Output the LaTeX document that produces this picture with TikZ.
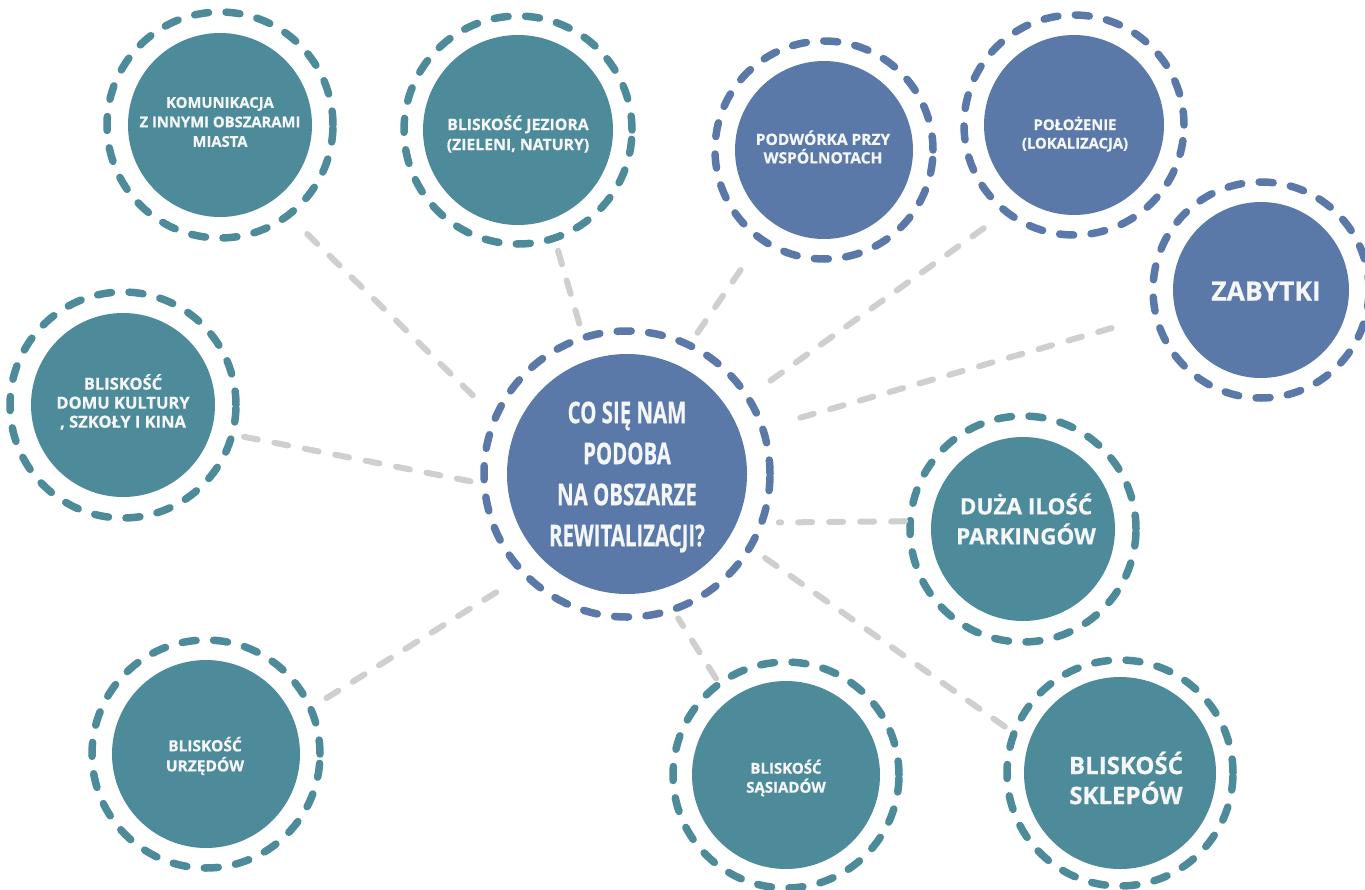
\documentclass[tikz,border=0pt]{standalone}
\usepackage{fontspec}
\setmainfont{Open Sans}
\newfontfamily\osb[BoldFeatures={FakeBold=0.6}]{Open Sans}
\newfontfamily\condf[FakeStretch=0.68, BoldFeatures={FakeBold=0.5}]{Open Sans}
\definecolor{tealc}{HTML}{4E8B9A}
\definecolor{bluec}{HTML}{5A78A8}
\definecolor{connc}{HTML}{CFCFCF}
\definecolor{txtc}{HTML}{F4F6F8}
\tikzset{
  bubble/.style={circle, inner sep=0pt, draw=none},
  tealb/.style={bubble, fill=tealc},
  blueb/.style={bubble, fill=bluec},
  ringt/.style={draw=tealc, line width=7.5pt, dash pattern=on 14pt off 17.5pt, line cap=round},
  ringb/.style={draw=bluec, line width=7.5pt, dash pattern=on 14pt off 17.5pt, line cap=round},
  conn/.style={draw=connc, line width=6pt, dash pattern=on 14pt off 17pt, line cap=round},
  txt/.style={text=txtc, align=center, inner sep=0pt, font=\osb\bfseries\fontsize{14.8}{19.5}\selectfont},
}
\begin{document}
\begin{tikzpicture}[x=1pt,y=-1pt]
\useasboundingbox (0,0) rectangle (1365,889);
\clip (0,0) rectangle (1365,889);
\fill[white] (0,0) rectangle (1365,889);

% nodes
\node[blueb, minimum size=240pt] (cent) at (627,474) {};
\draw[ringb] (cent.center) circle[radius=143pt];

\node[tealb, minimum size=184pt] (komu) at (220,125) {};
\draw[ringt] (komu.center) circle[radius=113pt];
\node[tealb, minimum size=190pt] (jez) at (518,130) {};
\draw[ringt] (jez.center) circle[radius=114pt];
\node[blueb, minimum size=178pt] (pod) at (824,150) {};
\draw[ringb] (pod.center) circle[radius=109pt];
\node[blueb, minimum size=180pt] (pol) at (1074,125) {};
\draw[ringb] (pol.center) circle[radius=110pt];
\node[blueb, minimum size=176pt] (zab) at (1261,290) {};
\draw[ringb] (zab.center) circle[radius=108pt];
\node[tealb, minimum size=184pt] (domu) at (123,405) {};
\draw[ringt] (domu.center) circle[radius=113pt];
\node[tealb, minimum size=184pt] (duza) at (1023,529) {};
\draw[ringt] (duza.center) circle[radius=113pt];
\node[tealb, minimum size=188pt] (urz) at (206,754) {};
\draw[ringt] (urz.center) circle[radius=114pt];
\node[tealb, minimum size=188pt] (sas) at (786,775) {};
\draw[ringt] (sas.center) circle[radius=113pt];
\node[tealb, minimum size=192pt] (skl) at (1120,773) {};
\draw[ringt] (skl.center) circle[radius=113pt];

% texts
\node[txt, font=\condf\bfseries\fontsize{30}{41}\selectfont] (cent-t) at (627,477) {CO SIĘ NAM\\PODOBA\\NA OBSZARZE\\REWITALIZACJI?};
\node[txt] (komu-t) at (220,122) {KOMUNIKACJA\\Z INNYMI OBSZARAMI\\MIASTA};
\node[txt, font=\osb\bfseries\fontsize{15.8}{20}\selectfont] (jez-t) at (518,134) {BLISKOŚĆ JEZIORA\\(ZIELENI, NATURY)};
\node[txt, font=\osb\bfseries\fontsize{15.5}{18.5}\selectfont] (pod-t) at (823,147) {PODWÓRKA PRZY\\WSPÓLNOTACH};
\node[txt, font=\osb\bfseries\fontsize{14.8}{18.5}\selectfont] (pol-t) at (1075,134) {POŁOŻENIE\\(LOKALIZACJA)};
\node[txt, font=\osb\bfseries\fontsize{26.5}{30}\selectfont] (zab-t) at (1266,291) {ZABYTKI};
\node[txt, font=\osb\bfseries\fontsize{16.5}{19}\selectfont] (domu-t) at (123,402) {BLISKOŚĆ\\DOMU KULTURY\\, SZKOŁY I KINA};
\node[txt, font=\osb\bfseries\fontsize{22.5}{30}\selectfont] (duza-t) at (1026,519) {DUŻA ILOŚĆ\\PARKINGÓW};
\node[txt, font=\osb\bfseries\fontsize{15.5}{20}\selectfont] (urz-t) at (205,756) {BLISKOŚĆ\\URZĘDÓW};
\node[txt, font=\osb\bfseries\fontsize{15}{19}\selectfont] (sas-t) at (786,778) {BLISKOŚĆ\\SĄSIADÓW};
\node[txt, font=\osb\bfseries\fontsize{24}{30}\selectfont] (skl-t) at (1126,778) {BLISKOŚĆ\\SKLEPÓW};

% connectors
\draw[conn, shorten <=48pt, shorten >=46pt] (komu.-55) -- (cent.161);
\draw[conn, shorten <=32pt, shorten >=32pt] (jez.-71) -- (cent.108);
\draw[conn, shorten <=57pt, shorten >=33pt] (pod.-125) -- (cent.66);
\draw[conn, shorten <=49pt, shorten >=42pt] (pol.-124) -- (cent.32);
\draw[conn, shorten <=66pt, shorten >=52pt] (zab.193) -- (cent.19);
\draw[conn, shorten <=33pt, shorten >=38pt] (domu.-16) -- (cent.187);
\draw[conn, shorten <=26pt, shorten >=42pt] (duza.175) -- (cent.-24);
\draw[conn, shorten <=39pt, shorten >=51pt] (urz.22) -- (cent.-133);
\draw[conn, shorten <=25pt, shorten >=34pt] (sas.127) -- (cent.-74);
\draw[conn, shorten <=29pt, shorten >=40pt] (skl.162) -- (cent.-30);
\end{tikzpicture}
\end{document}
